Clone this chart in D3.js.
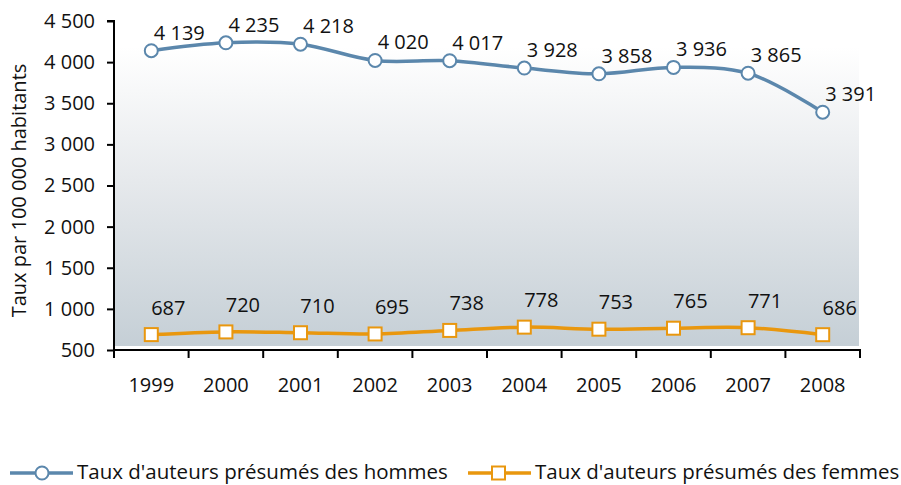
<!DOCTYPE html>
<html><head><meta charset="utf-8">
<script src="https://cdn.jsdelivr.net/npm/d3@7"></script>
<style>
html,body{margin:0;padding:0;background:#fff;}
svg{display:block;font-family:"Open Sans",sans-serif;}
</style></head>
<body><svg id="c" width="901" height="485"></svg>
<script>
const years = ["1999","2000","2001","2002","2003","2004","2005","2006","2007","2008"];
const menRates = [4139,4235,4218,4020,4017,3928,3858,3936,3865,3391];
const womenRates = [687,720,710,695,738,778,753,765,771,686];
const yTicks = [500,1000,1500,2000,2500,3000,3500,4000,4500];
const seriesNames = ["Taux d'auteurs présumés des hommes","Taux d'auteurs présumés des femmes"];
const yTitle = "Taux par 100 000 habitants";

const blue = "#5b87ac", orange = "#e9970e";
const FS = 20;
const fmt = v => d3.format(",")(v).replace(/,/g, " ");

const svg = d3.select("#c");
const L = 114, R = 860, T = 21, B = 350;
const x = d3.scaleBand().domain(years).range([L, R]);
const y = d3.scaleLinear().domain([500, 4500]).range([B, T]);

const defs = svg.append("defs");
const g = defs.append("linearGradient").attr("id","bg").attr("x1",0).attr("y1",0).attr("x2",0).attr("y2",1);
g.append("stop").attr("offset","0%").attr("stop-color","#ffffff");
g.append("stop").attr("offset","45%").attr("stop-color","#e6e9ec");
g.append("stop").attr("offset","100%").attr("stop-color","#c5cfd6");
svg.append("rect").attr("x", L).attr("y", 47).attr("width", R - L - 1).attr("height", B - 4 - 47).attr("fill","url(#bg)");

// axes
const yAxis = d3.axisLeft(y).tickValues(yTicks).tickFormat(fmt).tickSize(7).tickPadding(12);
const ya = svg.append("g").attr("transform", `translate(${L},0)`).call(yAxis);
ya.select(".domain").attr("stroke","#000").attr("stroke-width",2).attr("d", `M-7,${T}H0V${B}`);
ya.selectAll(".tick line").attr("stroke","#000").attr("stroke-width",2);
ya.selectAll(".tick text").attr("font-size",FS).attr("font-family","Open Sans").attr("fill","#111");

const xa = svg.append("g").attr("transform", `translate(0,${B})`);
xa.append("line").attr("x1", L - 1).attr("x2", R + 1).attr("stroke","#000").attr("stroke-width",2);
xa.selectAll("line.t").data(years.concat(["end"])).join("line").attr("class","t")
  .attr("x1",(d,i)=> i < years.length ? x(d) : x(years[years.length-1]) + x.bandwidth())
  .attr("x2",(d,i)=> i < years.length ? x(d) : x(years[years.length-1]) + x.bandwidth())
  .attr("y1",0).attr("y2",8).attr("stroke","#000").attr("stroke-width",2);
xa.selectAll("text").data(years).join("text")
  .attr("x", d => x(d) + x.bandwidth()/2).attr("y", 42).attr("text-anchor","middle")
  .attr("font-size",FS).attr("fill","#111").text(d => d);

svg.append("text").attr("transform", `translate(26,${(T+B)/2 + 5}) rotate(-90)`)
  .attr("text-anchor","middle").attr("font-size",FS).attr("fill","#111").text(yTitle);

const cx = d => x(d) + x.bandwidth()/2;
const line = d3.line().x((d,i)=>cx(years[i])).y(d=>y(d)).curve(d3.curveCatmullRom.alpha(0.5));

// men
svg.append("path").attr("d", line(menRates)).attr("fill","none").attr("stroke",blue).attr("stroke-width",3.5);
svg.selectAll("circle.m").data(menRates).join("circle").attr("class","m")
  .attr("cx",(d,i)=>cx(years[i])).attr("cy",d=>y(d)).attr("r",6.5)
  .attr("fill","#fff").attr("stroke",blue).attr("stroke-width",2);
svg.selectAll("text.m").data(menRates).join("text").attr("class","m")
  .attr("x",(d,i)=>cx(years[i]) + 28).attr("y",d=>y(d) - 11).attr("text-anchor","middle")
  .attr("font-size",FS).attr("fill","#111").text(fmt);

// women
svg.append("path").attr("d", line(womenRates)).attr("fill","none").attr("stroke",orange).attr("stroke-width",3.5);
svg.selectAll("rect.w").data(womenRates).join("rect").attr("class","w")
  .attr("x",(d,i)=>cx(years[i]) - 6.5).attr("y",d=>y(d) - 6.5).attr("width",13).attr("height",13)
  .attr("fill","#fff").attr("stroke",orange).attr("stroke-width",2);
svg.selectAll("text.w").data(womenRates).join("text").attr("class","w")
  .attr("x",(d,i)=>cx(years[i]) + 17).attr("y",d=>y(d) - 20).attr("text-anchor","middle")
  .attr("font-size",FS).attr("fill","#111").text(fmt);

// legend
const lg = svg.append("g").attr("transform","translate(0,473)");
const items = [{name:seriesNames[0], color:blue, x0:10, shape:"circle"},{name:seriesNames[1], color:orange, x0:468, shape:"square"}];
items.forEach(it => {
  lg.append("line").attr("x1",it.x0).attr("x2",it.x0+63).attr("stroke",it.color).attr("stroke-width",3.5);
  if (it.shape === "circle") lg.append("circle").attr("cx",it.x0+32).attr("r",6.5).attr("fill","#fff").attr("stroke",it.color).attr("stroke-width",2);
  else lg.append("rect").attr("x",it.x0+24).attr("y",-6.5).attr("width",13).attr("height",13).attr("fill","#fff").attr("stroke",it.color).attr("stroke-width",2);
  lg.append("text").attr("x",it.x0+67).attr("y",6).attr("font-size",20.5).attr("fill","#111").text(it.name);
});
</script></body></html>
